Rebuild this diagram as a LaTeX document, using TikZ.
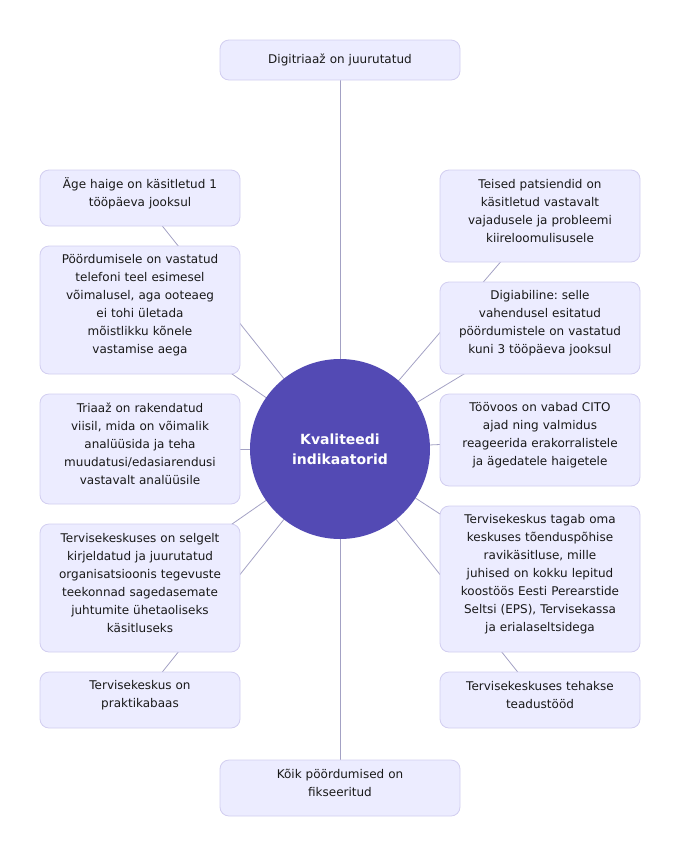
\documentclass[tikz,border=0pt]{standalone}
\usepackage{fontspec}
\setmainfont{DejaVu Sans}
\frenchspacing
\usetikzlibrary{positioning, backgrounds}
\definecolor{boxfill}{HTML}{ECECFF}
\definecolor{boxline}{HTML}{D2CEF0}
\definecolor{rootfill}{HTML}{534AB4}
\definecolor{edgeline}{HTML}{A3A1C4}

\begin{document}
\begin{tikzpicture}[
    x=1pt, y=-1pt,
    cell/.style={rectangle, draw=boxline, fill=boxfill, rounded corners=9pt, line width=0.8pt, outer sep=0pt, text width=180pt, inner xsep=10pt, inner ysep=6pt, minimum height=#1, align=center, font=\fontsize{12}{18}\selectfont, text=black!90},
    cell/.default=56pt,
    box/.style={cell=#1, execute at end node={\endgraf\vspace*{10pt}}},
    box/.default=56pt,
    wide/.style={text width=220pt},
    root/.style={circle, fill=rootfill, minimum size=180pt, inner sep=0pt, align=center, text=white, font=\fontsize{14}{20}\selectfont\bfseries},
    link/.style={line width=0.8pt, color=edgeline}
]
\useasboundingbox (0,0) rectangle (680,860);

% Centre
\node[root] (kq) at (340,449) {Kvaliteedi\\indikaatorid};

% Top and bottom
\node[cell=40pt, wide] (top) at (340,60) {Digitriaaž on juurutatud};
\node[box, wide] (bot) at (340,788) {Kõik pöördumised on\\fikseeritud};

% Left column
\node[box] (l1) at (140,198) {Äge haige on käsitletud 1\\tööpäeva jooksul};
\node[box=128pt, below=20pt of l1] (l2) {Pöördumisele on vastatud\\telefoni teel esimesel\\võimalusel, aga ooteaeg\\ei tohi ületada\\mõistlikku kõnele\\vastamise aega};
\node[box=110pt, below=20pt of l2] (l3) {Triaaž on rakendatud\\viisil, mida on võimalik\\analüüsida ja teha\\muudatusi/edasiarendusi\\vastavalt analüüsile};
\node[box=128pt, below=20pt of l3] (l4) {Tervisekeskuses on selgelt\\kirjeldatud ja juurutatud\\organisatsioonis tegevuste\\teekonnad sagedasemate\\juhtumite ühetaoliseks\\käsitluseks};
\node[box, below=20pt of l4] (l5) {Tervisekeskus on\\praktikabaas};

% Right column
\node[box=92pt] (r1) at (540,216) {Teised patsiendid on\\käsitletud vastavalt\\vajadusele ja probleemi\\kiireloomulisusele};
\node[box=92pt, below=20pt of r1] (r2) {Digiabiline: selle\\vahendusel esitatud\\pöördumistele on vastatud\\kuni 3 tööpäeva jooksul};
\node[box=92pt, below=20pt of r2] (r3) {Töövoos on vabad CITO\\ajad ning valmidus\\reageerida erakorralistele\\ja ägedatele haigetele};
\node[box=146pt, below=20pt of r3] (r4) {Tervisekeskus tagab oma\\keskuses tõenduspõhise\\ravikäsitluse, mille\\juhised on kokku lepitud\\koostöös Eesti Perearstide\\Seltsi (EPS), Tervisekassa\\ja erialaseltsidega};
\node[box, below=20pt of r4] (r5) {Tervisekeskuses tehakse\\teadustööd};

\begin{pgfonlayer}{background}
\foreach \n in {top, bot, l1, l2, l3, l4, l5, r1, r2, r3, r4, r5}
    \draw[link] (kq.center) -- (\n.center);
\end{pgfonlayer}
\end{tikzpicture}
\end{document}
